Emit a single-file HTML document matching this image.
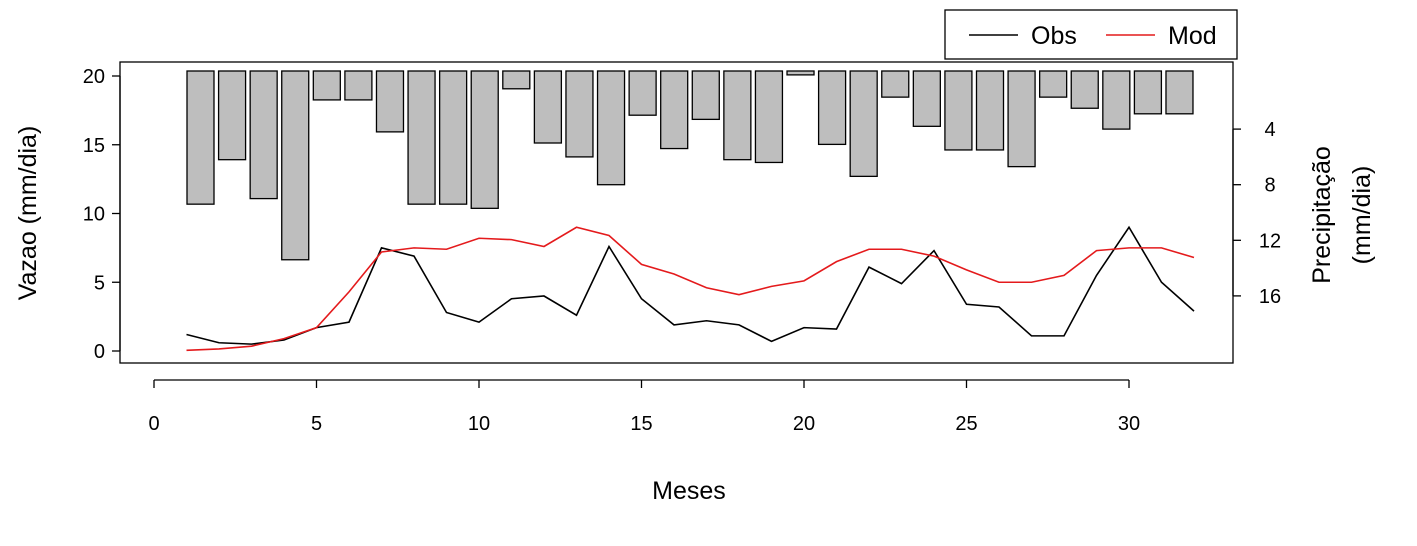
<!DOCTYPE html>
<html><head><meta charset="utf-8"><style>
body{margin:0;background:#fff;}
svg{display:block;font-family:"Liberation Sans",Arial,sans-serif;}
</style></head><body>
<svg id="chart" width="1417" height="546">
<g id="bars"></g>
<g id="lines"></g>
<rect x="120" y="62" width="1113" height="301" fill="none" stroke="#000" stroke-width="1.3"/>
<g id="axes"></g>
<text x="36" y="213" font-size="25" text-anchor="middle" transform="rotate(-90 36 213)">Vazao (mm/dia)</text>
<text x="1330" y="215" font-size="25" text-anchor="middle" transform="rotate(-90 1330 215)">Precipitação</text>
<text x="1370" y="215" font-size="25" text-anchor="middle" transform="rotate(-90 1370 215)">(mm/dia)</text>
<text x="689" y="499" font-size="25" text-anchor="middle">Meses</text>
<g>
<rect x="945" y="10" width="292" height="49" fill="#fff" stroke="#000" stroke-width="1.3"/>
<line x1="969" y1="35" x2="1018" y2="35" stroke="#000" stroke-width="1.5"/>
<text x="1031" y="44" font-size="25">Obs</text>
<line x1="1106" y1="35" x2="1155" y2="35" stroke="#e41a1c" stroke-width="1.5"/>
<text x="1168" y="44" font-size="25">Mod</text>
</g>
</svg>
<script>
const months=[1,2,3,4,5,6,7,8,9,10,11,12,13,14,15,16,17,18,19,20,21,22,23,24,25,26,27,28,29,30,31,32];
const obs=[1.2,0.6,0.5,0.8,1.7,2.1,7.5,6.9,2.8,2.1,3.8,4.0,2.6,7.6,3.8,1.9,2.2,1.9,0.7,1.7,1.6,6.1,4.9,7.3,3.4,3.2,1.1,1.1,5.5,9.0,5.0,2.9];
const mod=[0.05,0.15,0.35,0.9,1.7,4.3,7.2,7.5,7.4,8.2,8.1,7.6,9.0,8.4,6.3,5.6,4.6,4.1,4.7,5.1,6.5,7.4,7.4,6.9,5.9,5.0,5.0,5.5,7.3,7.5,7.5,6.8];
const precip=[9.4,6.2,9.0,13.4,1.9,1.9,4.2,9.4,9.4,9.7,1.1,5.0,6.0,8.0,3.0,5.4,3.3,6.2,6.4,0.1,5.1,7.4,1.7,3.8,5.5,5.5,6.7,1.7,2.5,4.0,2.9,2.9];
const xTicks=[0,5,10,15,20,25,30];
const yTicks=[0,5,10,15,20];
const y2Ticks=[4,8,12,16];
const NS='http://www.w3.org/2000/svg';
const X=v=>154+v*32.5;
const Y=v=>351-v*13.75;
const Y2=v=>73.5+v*13.9;
const BX=i=>187+i*31.58;
function mk(t,a,p){const e=document.createElementNS(NS,t);for(const k in a)e.setAttribute(k,a[k]);p.appendChild(e);return e;}
const bars=document.getElementById('bars'),lines=document.getElementById('lines'),axes=document.getElementById('axes');
precip.forEach((p,i)=>{const r=mk('rect',{x:BX(i),y:71,width:27,height:Math.max(1.5,Y2(p)-71),fill:'#bebebe',stroke:'#000','stroke-width':1.3},bars);

});
[[obs,'#000','obs-line'],[mod,'#e41a1c','mod-line']].forEach(([d,c,n])=>{const l=mk('polyline',{points:d.map((v,i)=>X(months[i])+','+Y(v)).join(' '),fill:'none',stroke:c,'stroke-width':1.6},lines);

});
mk('line',{x1:X(0),x2:X(30),y1:380,y2:380,stroke:'#000','stroke-width':1.3},axes);
xTicks.forEach(t=>{mk('line',{x1:X(t),x2:X(t),y1:380,y2:388,stroke:'#000','stroke-width':1.3},axes);const e=mk('text',{x:X(t),y:430,'font-size':20,'text-anchor':'middle'},axes);e.textContent=t;

});
mk('line',{x1:120,x2:120,y1:Y(0),y2:Y(20),stroke:'#000','stroke-width':1.3},axes);
yTicks.forEach(t=>{mk('line',{x1:112,x2:120,y1:Y(t),y2:Y(t),stroke:'#000','stroke-width':1.3},axes);const e=mk('text',{x:105,y:Y(t)+7,'font-size':20,'text-anchor':'end'},axes);e.textContent=t;

});
mk('line',{x1:1233,x2:1233,y1:Y2(4),y2:Y2(16),stroke:'#000','stroke-width':1.3},axes);
y2Ticks.forEach(t=>{mk('line',{x1:1233,x2:1241,y1:Y2(t),y2:Y2(t),stroke:'#000','stroke-width':1.3},axes);const e=mk('text',{x:1270,y:Y2(t)+7,'font-size':20,'text-anchor':'middle'},axes);e.textContent=t;

});
</script>
</body></html>
